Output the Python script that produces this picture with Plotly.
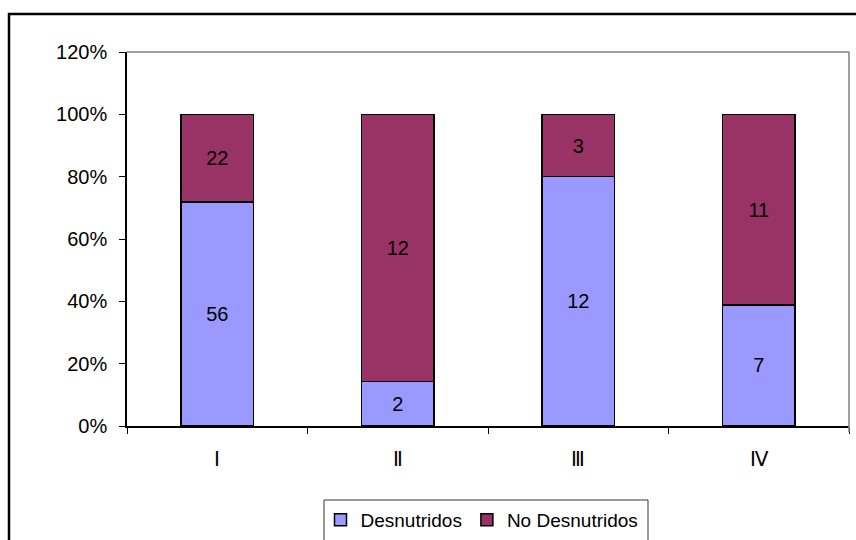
import plotly.graph_objects as go

# Groups and patient counts per nutritional status
categories = ["Ⅰ", "Ⅱ", "Ⅲ", "Ⅳ"]
desnutridos = [56, 2, 12, 7]
no_desnutridos = [22, 12, 3, 11]
series_names = ["Desnutridos", "No Desnutridos"]
colors = ["#9999FF", "#993366"]

totals = [a + b for a, b in zip(desnutridos, no_desnutridos)]
share_d = [a / t for a, t in zip(desnutridos, totals)]
share_n = [b / t for b, t in zip(no_desnutridos, totals)]

W, H = 856, 540
L, R, T, B = 127, 849, 52, 426  # plot area in pixels

def px(x):
    return (x - L) / (R - L)

def py(y):
    return (B - y) / (B - T)

font = dict(family="Liberation Sans, Arial, sans-serif", size=20, color="black")
legend_font = dict(family="Liberation Sans, Arial, sans-serif", size=19, color="black")

fig = go.Figure()
for name, shares, counts, col in [
    (series_names[0], share_d, desnutridos, colors[0]),
    (series_names[1], share_n, no_desnutridos, colors[1]),
]:
    fig.add_trace(go.Bar(
        x=categories, y=shares, name=name,
        text=[str(c) for c in counts],
        textposition="inside", insidetextanchor="middle", textangle=0,
        textfont=font,
        marker=dict(color=col, line=dict(color="black", width=1.5)),
        width=0.4,
    ))

shapes = [
    # top and right edges of the plot area
    dict(type="line", xref="paper", yref="paper", x0=0, x1=1, y0=1, y1=1,
         line=dict(color="#808080", width=1.5)),
    dict(type="line", xref="paper", yref="paper", x0=1, x1=1, y0=py(432), y1=1,
         line=dict(color="#808080", width=1.5)),
    # chart border
    dict(type="rect", xref="paper", yref="paper", x0=px(9), x1=px(870),
         y0=py(560), y1=py(14), line=dict(color="black", width=2.5),
         layer="below"),
    # legend frame
    dict(type="rect", xref="paper", yref="paper", x0=px(324), x1=px(648),
         y0=py(560), y1=py(500), line=dict(color="#333333", width=1)),
]

fig.update_layout(
    width=W, height=H,
    margin=dict(l=L, r=W - R, t=T, b=H - B, autoexpand=False),
    barmode="stack",
    plot_bgcolor="white", paper_bgcolor="white",
    font=font,
    showlegend=True,
    legend=dict(orientation="h", x=px(482), xanchor="center",
                y=py(520), yanchor="middle", font=legend_font,
                traceorder="normal",
                bgcolor="rgba(0,0,0,0)", borderwidth=0,
                itemwidth=30, tracegroupgap=0),
    shapes=shapes,
    bargap=0.6,
)
fig.update_yaxes(range=[0, 1.2], dtick=0.2, tickformat=".0%",
                 showgrid=False, zeroline=False,
                 showline=True, linecolor="black", linewidth=1.5,
                 ticks="outside", ticklen=6, tickcolor="black",
                 ticklabelstandoff=8, tickfont=font)
fig.update_xaxes(showgrid=False, showline=True, linecolor="black", linewidth=1.5,
                 ticks="outside", ticklen=6, tickcolor="black",
                 tickson="boundaries", ticklabelstandoff=14, tickfont=font)

fig.write_html("out.html")
